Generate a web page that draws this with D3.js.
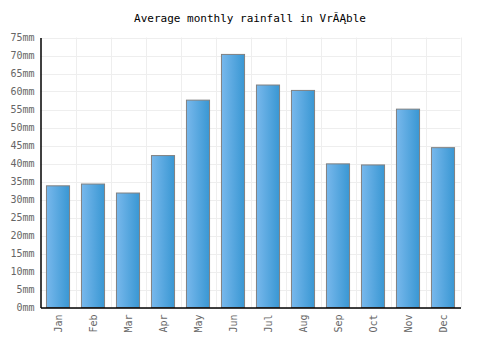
<!DOCTYPE html>
<html><head><meta charset="utf-8">
<script src="https://cdn.jsdelivr.net/npm/d3@7"></script>
<style>body{margin:0;background:#fff}</style>
</head><body>
<script>
const titleText = "Average monthly rainfall in Vr\u0102\u0104ble";
const months = ["Jan","Feb","Mar","Apr","May","Jun","Jul","Aug","Sep","Oct","Nov","Dec"];
const rainfall = [33.8,34.3,31.8,42.2,57.6,70.3,61.8,60.3,39.9,39.6,55.1,44.4];
const yTicks = [0,5,10,15,20,25,30,35,40,45,50,55,60,65,70,75];

const W=500,H=350, m={l:40.5,r:39.5,t:37.5,b:42.5};
const svg=d3.select("body").append("svg").attr("width",W).attr("height",H);
const defs=svg.append("defs");
const g1=defs.append("linearGradient").attr("id","bg").attr("x1","0").attr("x2","1").attr("y1","0").attr("y2","0");
g1.append("stop").attr("offset","0").attr("stop-color","#78b8ec");
g1.append("stop").attr("offset","1").attr("stop-color","#3997d3");

const x=d3.scaleBand().domain(months).range([m.l,W-m.r]).paddingInner(0.34).paddingOuter(0.17);
const xb=d3.scaleBand().domain(months).range([m.l,W-m.r]);
const y=d3.scaleLinear().domain([0,75]).range([H-m.b,m.t]);
const font="'DejaVu Sans Mono', monospace";

svg.append("text").attr("x",250).attr("y",22).attr("text-anchor","middle")
  .attr("font-family",font).attr("font-size",11).attr("fill","#000").text(titleText);

// grid
svg.append("g").selectAll("line").data(yTicks).join("line")
  .attr("x1",m.l).attr("x2",W-m.r).attr("y1",d=>Math.round(y(d))+0.5).attr("y2",d=>Math.round(y(d))+0.5)
  .attr("stroke","#eeeeee");
svg.append("g").selectAll("line").data(months).join("line")
  .attr("x1",d=>Math.round(xb(d)+xb.bandwidth())+0.5).attr("x2",d=>Math.round(xb(d)+xb.bandwidth())+0.5)
  .attr("y1",m.t).attr("y2",H-m.b).attr("stroke","#eeeeee");

// bars
svg.append("g").selectAll("rect").data(rainfall).join("rect")
  .attr("x",(d,i)=>x(months[i])).attr("width",x.bandwidth())
  .attr("y",d=>y(d)).attr("height",d=>y(0)-y(d))
  .attr("fill","url(#bg)").attr("stroke","#808080").attr("stroke-width",1);

// axes
const ya=svg.append("g").attr("transform",`translate(${m.l},0)`)
  .call(d3.axisLeft(y).tickValues(yTicks).tickSize(0).tickPadding(6).tickFormat(d=>d+"mm"));
ya.select(".domain").attr("stroke","#000").attr("stroke-width",1.5);
ya.selectAll("text").attr("font-family",font).attr("font-size",10).attr("fill","#666");

const xa=svg.append("g").attr("transform",`translate(0,${H-m.b})`)
  .call(d3.axisBottom(xb).tickSize(0).tickPadding(0));
xa.select(".domain").attr("stroke","#000").attr("stroke-width",1.5);
xa.selectAll("text").attr("font-family",font).attr("font-size",10).attr("fill","#666")
  .attr("text-anchor","end").attr("dy","0.35em")
  .attr("transform","translate(0,7) rotate(-90)").attr("x",0).attr("y",0);
</script>
</body></html>
